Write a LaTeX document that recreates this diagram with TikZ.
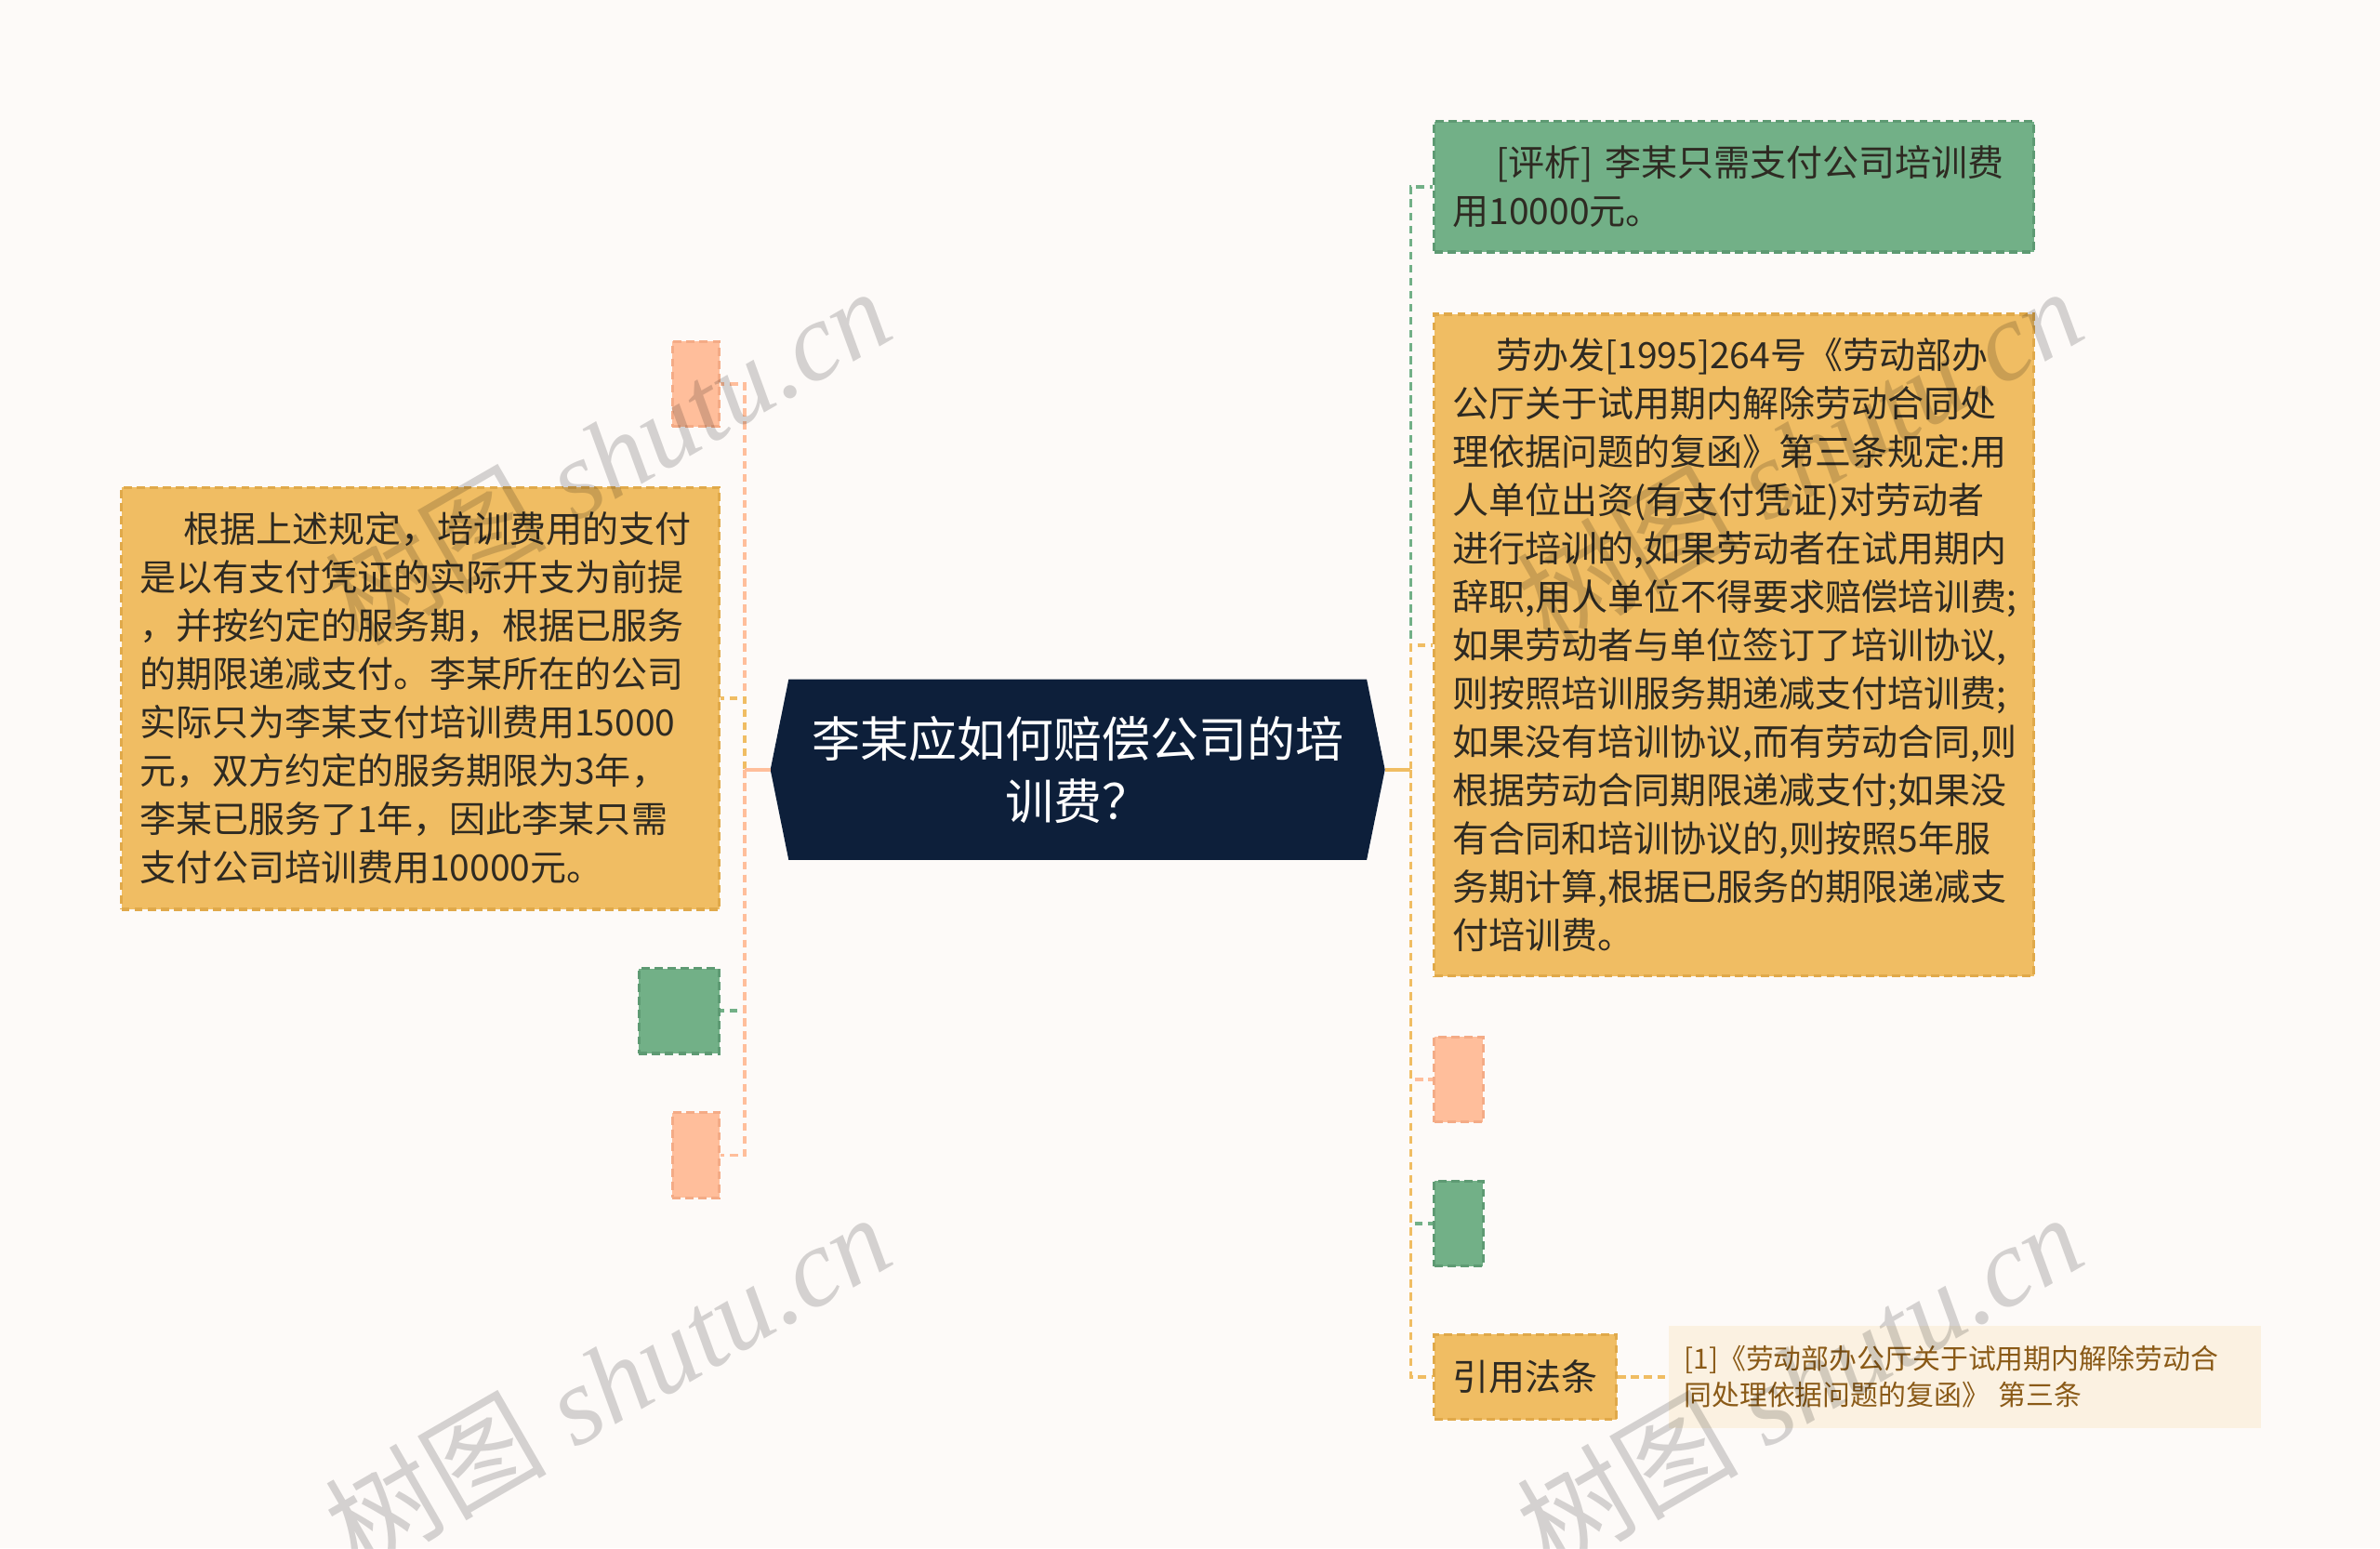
\documentclass[tikz,border=0pt]{standalone}
\usepackage{fontspec}
\setmainfont{Liberation Serif}
\newfontfamily\cjk{Noto Sans CJK SC}
\usepackage{xcolor}
\usetikzlibrary{positioning, calc}

\definecolor{paper}{HTML}{FDFAF8}
\definecolor{navy}{HTML}{0D1F3A}
\definecolor{leaf}{HTML}{72B087}
\definecolor{leafdark}{HTML}{5E9A73}
\definecolor{amber}{HTML}{F0BD63}
\definecolor{amberdark}{HTML}{E0A94A}
\definecolor{peach}{HTML}{FFBE9B}
\definecolor{peachdark}{HTML}{F4AB86}
\definecolor{cream}{HTML}{FBF1E1}
\definecolor{ink}{HTML}{2E2A22}
\definecolor{brownink}{HTML}{8A5A17}

\newdimen\pxu
\pxu=0.016327cm

\pgfdeclarelayer{bg}
\pgfsetlayers{bg,main}

\begin{document}
\begin{tikzpicture}[
    x=0.016327cm, y=-0.016327cm,
    every node/.style={inner sep=0pt},
    rootnode/.style={minimum width=380*\pxu, minimum height=118*\pxu, align=center, text=white, font=\cjk\fontsize{14.8pt}{19pt}\selectfont},
    card/.style={draw, line width=0.9pt, dash pattern=on 2.5pt off 1.5pt, inner xsep=12*\pxu, align=left, text=ink, font=\cjk\fontsize{11.1pt}{14.8pt}\selectfont},
    ambercard/.style={card, fill=amber, draw=amberdark},
    leafcard/.style={card, fill=leaf, draw=leafdark},
    peachcard/.style={card, fill=peach, draw=peachdark},
    refnote/.style={fill=cream, inner xsep=10*\pxu, align=left, text=brownink, font=\cjk\fontsize{8.5pt}{11.1pt}\selectfont},
    link/.style={line width=1.1pt, dash pattern=on 2.4pt off 1.6pt},
    stub/.style={line width=1.1pt},
    wmark/.style={rotate=30, text=black, opacity=0.16, font=\fontsize{34pt}{34pt}\selectfont}
]
\useasboundingbox (0,0) rectangle (1568,1020);

% 中心主题
\node[rootnode] (root) at (710,507) {李某应如何赔偿公司的培\\训费？};
\coordinate (rootL) at ($(root.west)+(-12,0)$);
\coordinate (rootR) at ($(root.east)+(12,0)$);
\begin{pgfonlayer}{bg}
\fill[paper] (0,0) rectangle (1568,1020);
\fill[navy] (root.north west) -- (root.north east) -- (rootR) -- (root.south east) -- (root.south west) -- (rootL) -- cycle;
\end{pgfonlayer}

% 左侧分支
\node[peachcard, minimum width=31*\pxu, minimum height=56*\pxu] (lpeachA) at (458.5,253) {};
\node[ambercard, text width=370*\pxu, minimum height=278*\pxu] (lamber) at (277,460) {\hspace*{1.2em}根据上述规定，培训费用的支付\\是以有支付凭证的实际开支为前提\\，并按约定的服务期，根据已服务\\的期限递减支付。李某所在的公司\\实际只为李某支付培训费用15000\\元，双方约定的服务期限为3年，\\李某已服务了1年，因此李某只需\\支付公司培训费用10000元。};
\node[leafcard, minimum width=53*\pxu, minimum height=56*\pxu] (lleaf) at (447.5,666) {};
\node[peachcard, minimum width=31*\pxu, minimum height=56*\pxu] (lpeachB) at (458.5,761) {};

% 右侧分支
\node[leafcard, text width=371*\pxu, minimum height=86*\pxu] (rleafA) at (1142.5,123) {\hspace*{1.2em}[评析] 李某只需支付公司培训费\\用10000元。};
\node[ambercard, text width=371*\pxu, minimum height=436*\pxu] (ramber) at (1142.5,425) {\hspace*{1.2em}劳办发[1995]264号《劳动部办\\公厅关于试用期内解除劳动合同处\\理依据问题的复函》第三条规定:用\\人单位出资(有支付凭证)对劳动者\\进行培训的,如果劳动者在试用期内\\辞职,用人单位不得要求赔偿培训费;\\如果劳动者与单位签订了培训协议,\\则按照培训服务期递减支付培训费;\\如果没有培训协议,而有劳动合同,则\\根据劳动合同期限递减支付;如果没\\有合同和培训协议的,则按照5年服\\务期计算,根据已服务的期限递减支\\付培训费。};
\node[peachcard, minimum width=32*\pxu, minimum height=56*\pxu] (rpeach) at (961,711) {};
\node[leafcard, minimum width=32*\pxu, minimum height=56*\pxu] (rleafB) at (961,806) {};
\node[ambercard, minimum width=120*\pxu, minimum height=56*\pxu] (cite) at (1005,907) {引用法条};
\node[refnote, text width=370*\pxu, minimum height=67*\pxu, right=0.54cm of cite] (law) {[1]《劳动部办公厅关于试用期内解除劳动合\\同处理依据问题的复函》 第三条};

% 左侧连线
\draw[link, leaf] (rootL) -- ++(-17,0) |- (lleaf.east);
\draw[link, peach] (rootL) -- ++(-17,0) |- (lpeachA.east);
\draw[link, peach] (rootL) -- ++(-17,0) |- (lpeachB.east);
\draw[link, amber] (rootL) -- ++(-17,0) |- (lamber.east);
\draw[stub, peach] (rootL) -- ++(-17,0);

% 右侧连线
\draw[link, leaf] (rootR) -- ++(17,0) |- (rleafA.west);
\draw[link, leaf] (rootR) -- ++(17,0) |- (rleafB.west);
\draw[link, peach] (rootR) -- ++(17,0) |- (rpeach.west);
\draw[link, amber] (rootR) -- ++(17,0) |- (ramber.west);
\draw[link, amber] (rootR) -- ++(17,0) |- (cite.west);
\draw[stub, amber] (rootR) -- ++(17,0);
\draw[link, amber] (cite.east) -- (law.west);

% 水印
\node[wmark] (wmA) at (400,300) {{\cjk 树图} \itshape shutu.cn};
\node[wmark] (wmB) at (1185,300) {{\cjk 树图} \itshape shutu.cn};
\node[wmark] (wmC) at (400,910) {{\cjk 树图} \itshape shutu.cn};
\node[wmark] (wmD) at (1185,910) {{\cjk 树图} \itshape shutu.cn};

\end{tikzpicture}
\end{document}
